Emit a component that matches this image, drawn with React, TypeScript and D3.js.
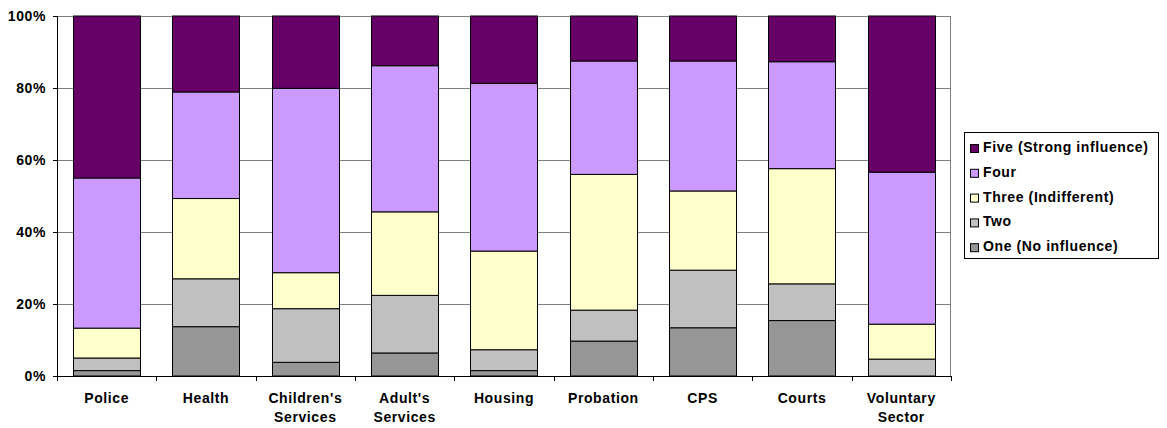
import React from "react";
import * as d3 from "d3";

const categories = ["Police", "Health", "Children's Services", "Adult's Services", "Housing", "Probation", "CPS", "Courts", "Voluntary Sector"];
const seriesNames = ["One (No influence)", "Two", "Three (Indifferent)", "Four", "Five (Strong influence)"];
const seriesColors = ["#969696", "#C0C0C0", "#FFFFCC", "#CC99FF", "#660066"];
const one = [1.5, 13.7, 3.8, 6.4, 1.5, 9.7, 13.4, 15.4, 0];
const two = [3.5, 13.3, 14.9, 16.0, 5.8, 8.6, 16.0, 10.2, 4.7];
const three = [8.3, 22.3, 10.0, 23.2, 27.4, 37.7, 22.0, 32.0, 9.7];
const four = [41.7, 29.6, 51.2, 40.6, 46.6, 31.5, 36.1, 29.7, 42.2];
const five = [45.0, 21.1, 20.1, 13.8, 18.7, 12.5, 12.5, 12.7, 43.4];
const yTicks = [0, 20, 40, 60, 80, 100];

const W = 1167, H = 428;
const left = 57, right = 951, top = 16, bottom = 376;
const FONT = "'Liberation Sans', Arial, sans-serif";

export default function App() {
  const x = d3.scaleBand<string>().domain(categories).range([left, right]).paddingInner(0.325).paddingOuter(0.1625);
  const y = d3.scaleLinear().domain([0, 100]).range([bottom, top]);
  const rows = categories.map((c, i) => ({ cat: c, s0: one[i], s1: two[i], s2: three[i], s3: four[i], s4: five[i] }));
  const stack = d3.stack<any>().keys(["s0", "s1", "s2", "s3", "s4"]);
  const layers = stack(rows);
  const step = x.step();
  const legendRows = [4, 3, 2, 1, 0];

  return (
    <svg width={W} height={H} style={{ position: "absolute", left: 0, top: 0, background: "#fff" }} fontFamily={FONT}>
      {/* plot border top/right */}
      <line x1={left} x2={right} y1={top + 0.5} y2={top + 0.5} stroke="#808080" />
      <line x1={right - 0.5} x2={right - 0.5} y1={top} y2={bottom} stroke="#808080" />
      {/* gridlines */}
      {yTicks.slice(1, -1).map(t => (
        <line key={t} x1={left} x2={right} y1={Math.round(y(t)) + 0.5} y2={Math.round(y(t)) + 0.5} stroke="#808080" />
      ))}
      {/* bars */}
      {layers.map((layer, li) => (
        <g key={li}>
          {layer.map((d, i) => {
            const h = y(d[0]) - y(d[1]);
            if (h <= 0) return null;
            return (
              <rect key={i} x={Math.round(x(categories[i])!) + 0.5} y={y(d[1])} width={Math.round(x.bandwidth())}
                height={h} fill={seriesColors[li]} stroke="#000" strokeWidth={1} />
            );
          })}
        </g>
      ))}
      {/* axes */}
      <line x1={left + 0.5} x2={left + 0.5} y1={top} y2={bottom} stroke="#000" />
      <line x1={left} x2={right} y1={bottom + 0.5} y2={bottom + 0.5} stroke="#000" />
      {yTicks.map(t => (
        <g key={t}>
          <line x1={left - 4} x2={left} y1={Math.round(y(t)) + 0.5} y2={Math.round(y(t)) + 0.5} stroke="#000" />
          <text x={46} y={y(t) + 5} textAnchor="end" fontSize={14} fontWeight="bold" letterSpacing={0.6}>{t}%</text>
        </g>
      ))}
      {d3.range(categories.length + 1).map(i => (
        <line key={i} x1={Math.round(left + i * step) + 0.5} x2={Math.round(left + i * step) + 0.5} y1={bottom} y2={bottom + 5} stroke="#000" />
      ))}
      {categories.map(c => {
        const words = c.split(" ");
        const cx = x(c)! + x.bandwidth() / 2;
        return (
          <text key={c} x={cx} y={403} textAnchor="middle" fontSize={14} fontWeight="bold" letterSpacing={0.6}>
            {words.map((w, j) => (
              <tspan key={j} x={cx} dy={j === 0 ? 0 : 19}>{w}</tspan>
            ))}
          </text>
        );
      })}
      {/* legend */}
      <rect x={964.5} y={132.5} width={194} height={126} fill="#fff" stroke="#000" />
      {legendRows.map((si, k) => (
        <g key={si}>
          <rect x={970.5} y={144.5 + k * 24.8} width={8} height={8} fill={seriesColors[si]} stroke="#000" />
          <text x={983} y={152 + k * 24.8} fontSize={14} fontWeight="bold" letterSpacing={0.6}>{seriesNames[si]}</text>
        </g>
      ))}
    </svg>
  );
}
